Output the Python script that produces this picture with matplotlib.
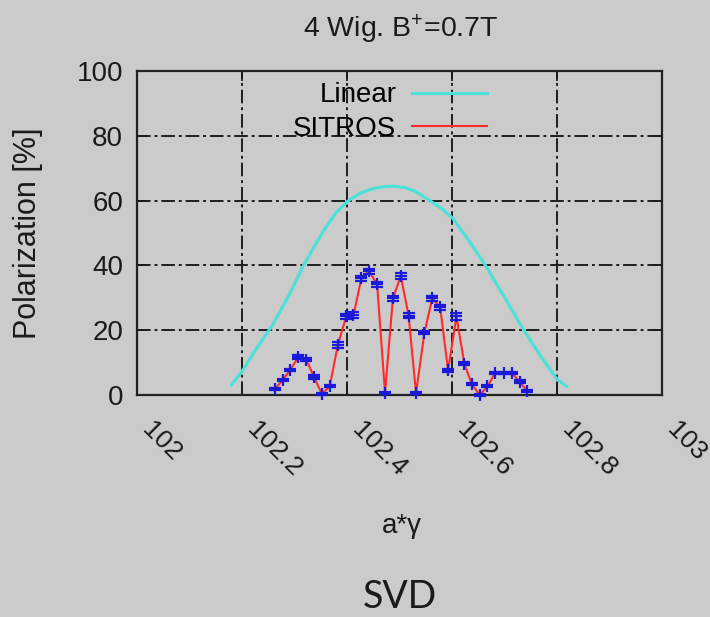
import matplotlib
matplotlib.use('Agg')
import matplotlib.pyplot as plt
import numpy as np

plt.rcParams['font.family'] = ['Liberation Sans', 'DejaVu Sans']
plt.rcParams['mathtext.default'] = 'regular'

# Linear estimate curve
lin_x = [102.18, 102.20, 102.23, 102.257, 102.29, 102.317, 102.34, 102.358,
         102.38, 102.402, 102.425, 102.447, 102.47, 102.49, 102.51, 102.53,
         102.558, 102.58, 102.601, 102.63, 102.663, 102.70, 102.736, 102.77,
         102.80, 102.818]
lin_y = [3.1, 7.3, 15.0, 21.3, 31.0, 40.0, 46.5, 51.4,
         56.5, 59.9, 62.3, 63.6, 64.3, 64.4, 64.0, 62.8,
         59.9, 57.5, 54.5, 48.0, 40.0, 30.0, 20.0, 11.5,
         4.7, 2.6]

# SITROS simulation points
sit_x = [102.262, 102.277, 102.292, 102.307, 102.322, 102.337, 102.352, 102.367,
         102.382, 102.398, 102.412, 102.427, 102.442, 102.457, 102.472, 102.487,
         102.502, 102.517, 102.531, 102.547, 102.562, 102.577, 102.592, 102.608,
         102.623, 102.637, 102.652, 102.667, 102.682, 102.698, 102.713, 102.728,
         102.742]
sit_y = [1.8, 4.5, 7.8, 11.7, 10.9, 5.5, 0.2, 2.8,
         15.3, 24.2, 24.6, 36.0, 38.2, 34.1, 0.7, 29.8,
         36.7, 24.4, 0.5, 19.2, 29.8, 27.0, 7.6, 24.2,
         9.6, 3.4, 0.0, 2.6, 6.9, 6.9, 6.9, 4.1,
         1.3]
sit_err = [0.3, 0.3, 0.3, 0.5, 0.5, 0.5, 0.3, 0.3,
           0.9, 0.9, 0.9, 0.8, 0.8, 0.8, 0.3, 0.8,
           0.8, 0.8, 0.3, 0.5, 0.8, 0.8, 0.5, 1.0,
           0.5, 0.3, 0.3, 0.3, 0.3, 0.3, 0.3, 0.5,
           0.3]

xticks = [102, 102.2, 102.4, 102.6, 102.8, 103]
xtick_labels = ['102', '102.2', '102.4', '102.6', '102.8', '103']
yticks = [0, 20, 40, 60, 80, 100]

bg = '#cbcbcb'
fig = plt.figure(figsize=(7.1, 6.17), dpi=100, facecolor=bg)
ax = fig.add_axes([0.193, 0.360, 0.740, 0.525], facecolor=bg)

ax.plot(lin_x, lin_y, color='#48e2d8', lw=2.2, label='Linear')
ax.plot(sit_x, sit_y, color='#ff2a2a', lw=1.5, label='SITROS')
ax.errorbar(sit_x, sit_y, yerr=sit_err, fmt='+', color='#1a1ad8', ms=9, mew=1.6,
            elinewidth=1.0, capsize=4, capthick=1.4, clip_on=False, zorder=4)

ax.set_xlim(102, 103)
ax.set_ylim(0, 100)
ax.set_xticks(xticks)
ax.set_xticklabels(xtick_labels)
ax.set_yticks(yticks)
ax.tick_params(direction='in', top=True, right=True, length=7, width=1.2,
               colors='#1a1a1a')
ax.tick_params(axis='x', pad=16, labelsize=19)
ax.tick_params(axis='y', pad=10, labelsize=20)
plt.setp(ax.get_xticklabels(), rotation=-45, ha='left', va='top')

ax.grid(True, color='#1e1e1e', lw=1.4, linestyle=(0, (7, 2, 1.5, 2)))
for s in ax.spines.values():
    s.set_linewidth(1.6)
    s.set_color('#222222')

ax.legend(loc='upper right', bbox_to_anchor=(0.692, 1.008), markerfirst=False,
          frameon=False, handlelength=2.7, handletextpad=0.55, labelspacing=0.28,
          borderpad=0, fontsize=20)

fig.text(401 / 710, 1 - 29 / 617, '4 Wig. B$^{+}$=0.7T', ha='center', va='center',
         fontsize=20.5, color='#1a1a1a')
fig.text(28 / 710, 1 - 233 / 617, 'Polarization [%]', rotation=90, ha='center',
         va='center', fontsize=22, color='#1a1a1a')
fig.text(402 / 710, 1 - 526 / 617, 'a*\u03b3', ha='center', va='center',
         fontsize=20, color='#1a1a1a')
fig.text(400 / 710, 1 - 597 / 617, 'SVD', ha='center', va='center',
         fontsize=27, family=['Lato', 'DejaVu Sans'], color='#1a1a1a')

fig.savefig('out.png', dpi=100, facecolor=bg)
